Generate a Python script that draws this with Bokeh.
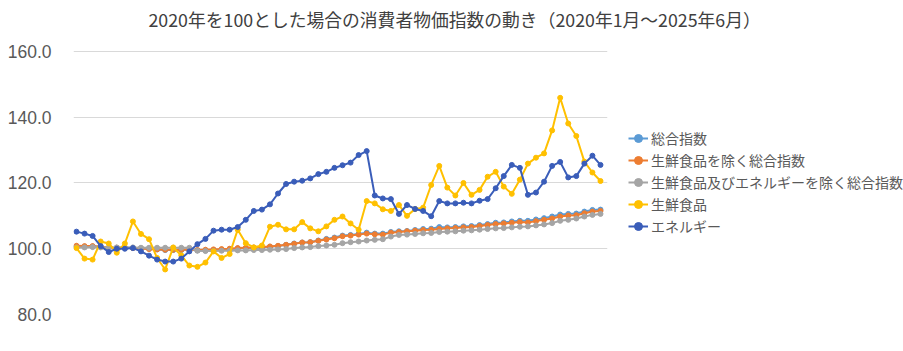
from bokeh.plotting import figure
from bokeh.models import Range1d, FixedTicker, NumeralTickFormatter, Legend, LegendItem
from bokeh.embed import file_html
from bokeh.resources import INLINE

# Months: 2020-01 .. 2025-06
months = [f"{y}-{m:02d}" for y in range(2020, 2026) for m in range(1, 13)][:66]

total = [
    100.7, 100.6, 100.7, 100.6, 100.3, 100.3, 100.3, 100.3, 100.1, 100.0, 99.8, 99.6,
    99.6, 99.6, 99.8, 99.5, 99.5, 99.6, 99.7, 99.9, 100.1, 100.2, 100.3, 100.4,
    100.6, 100.8, 101.2, 101.6, 101.9, 102.0, 102.5, 103.0, 103.4, 104.0, 104.2, 104.5,
    104.9, 104.6, 104.6, 105.1, 105.3, 105.4, 105.7, 106.0, 106.1, 106.6, 106.5, 106.6,
    106.8, 106.9, 107.2, 107.5, 107.9, 108.0, 108.3, 108.5, 108.5, 108.9, 109.3, 109.8,
    110.4, 110.6, 110.7, 111.3, 111.8, 111.9,
]
core = [
    100.9, 100.8, 100.8, 100.6, 100.3, 100.3, 100.3, 100.2, 100.1, 99.9, 99.8, 99.7,
    99.7, 99.7, 99.8, 99.6, 99.7, 99.8, 99.9, 100.0, 100.2, 100.3, 100.4, 100.5,
    100.7, 100.9, 101.2, 101.5, 101.9, 102.0, 102.4, 102.8, 103.2, 103.8, 104.0, 104.3,
    104.6, 104.4, 104.3, 104.9, 105.1, 105.3, 105.5, 105.7, 105.8, 106.0, 106.2, 106.3,
    106.5, 106.6, 106.9, 107.2, 107.5, 107.7, 107.9, 108.1, 108.0, 108.4, 108.8, 109.2,
    109.8, 110.1, 110.2, 110.8, 111.3, 111.5,
]
core_core = [
    100.4, 100.4, 100.5, 100.4, 100.3, 100.4, 100.4, 100.4, 100.3, 100.3, 100.3, 100.3,
    100.3, 100.3, 100.3, 99.4, 99.3, 99.3, 99.4, 99.4, 99.5, 99.5, 99.6, 99.6,
    99.7, 99.8, 99.9, 100.2, 100.4, 100.5, 100.8, 101.0, 101.2, 101.7, 102.0, 102.2,
    102.5, 102.7, 102.9, 103.7, 104.2, 104.3, 104.5, 104.7, 104.8, 105.1, 105.2, 105.3,
    105.5, 105.6, 105.8, 106.0, 106.2, 106.3, 106.5, 106.7, 106.8, 107.1, 107.4, 107.8,
    108.5, 108.8, 109.2, 109.8, 110.3, 110.6,
]
fresh_food = [
    100.2, 97.0, 96.7, 102.2, 101.6, 98.8, 101.6, 108.3, 104.5, 102.9, 97.2, 93.7,
    100.4, 98.0, 94.9, 94.5, 95.8, 99.2, 97.2, 98.4, 105.8, 101.7, 100.4, 101.0,
    106.7, 107.3, 105.9, 105.9, 108.1, 106.2, 105.3, 106.8, 108.8, 109.8, 107.7, 105.8,
    114.5, 113.8, 112.0, 111.5, 113.3, 110.0, 112.1, 112.5, 119.4, 125.2, 118.6, 116.2,
    120.0, 116.4, 117.9, 121.9, 123.4, 118.9, 116.7, 121.0, 125.9, 127.7, 129.0, 136.0,
    145.9, 138.1, 134.3, 126.5, 123.2, 120.6,
]
energy = [
    105.2, 104.6, 103.9, 100.8, 99.0, 100.0, 100.0, 100.2, 99.2, 97.9, 96.7, 96.1,
    96.1, 97.0, 99.2, 101.4, 103.0, 105.5, 105.8, 105.8, 106.6, 108.8, 111.5, 111.9,
    113.5, 116.8, 119.7, 120.4, 120.7, 121.4, 122.7, 123.4, 124.6, 125.4, 126.2, 128.5,
    129.7, 116.2, 115.3, 115.1, 110.6, 113.3, 112.1, 111.5, 109.9, 114.5, 113.8, 113.8,
    114.0, 113.8, 114.6, 115.1, 118.4, 122.1, 125.5, 124.6, 116.4, 117.1, 120.4, 125.2,
    126.4, 121.7, 122.1, 125.9, 128.3, 125.5,
]

series_names = [
    "総合指数",
    "生鮮食品を除く総合指数",
    "生鮮食品及びエネルギーを除く総合指数",
    "生鮮食品",
    "エネルギー",
]
series_values = [total, core, core_core, fresh_food, energy]
series_colors = ["#5B9BD5", "#ED7D31", "#A5A5A5", "#FFC000", "#3A5DB9"]
y_ticks = [80, 100, 120, 140, 160]
title_text = "2020年を100とした場合の消費者物価指数の動き（2020年1月～2025年6月）"

x = list(range(len(months)))

# frame extends a little above the 160 grid line so the title sits high
p = figure(
    frame_width=534, frame_height=276,
    x_range=Range1d(-0.37, 65.87), y_range=Range1d(80, 163.95),
    output_backend="svg", toolbar_location=None,
    min_border_left=73, min_border_right=296, min_border_top=37, min_border_bottom=38,
)
p.outline_line_color = None
p.background_fill_color = "white"
p.border_fill_color = "white"

p.title.text = title_text
p.title.align = "left"
p.title.offset = 75
p.title.text_font = "Noto Sans CJK JP"
p.title.text_font_size = "17.8px"
p.title.text_font_style = "normal"
p.title.text_color = "#404040"
p.title.vertical_align = "top"
p.title.standoff = 10

p.xaxis.visible = False
p.xgrid.visible = False
p.ygrid.grid_line_color = "#D9D9D9"
p.ygrid.grid_line_width = 1

ya = p.yaxis[0]
ya.ticker = FixedTicker(ticks=y_ticks)
ya.formatter = NumeralTickFormatter(format="0.0")
ya.axis_line_color = None
ya.major_tick_line_color = None
ya.minor_tick_line_color = None
ya.major_tick_out = 0
ya.major_tick_in = 0
ya.major_label_text_font = "Liberation Sans"
ya.major_label_text_font_size = "17.5px"
ya.major_label_text_color = "#595959"
ya.major_label_standoff = 22

items = []
for name, vals, col in zip(series_names, series_values, series_colors):
    lr = p.line(x, vals, line_color=col, line_width=2)
    sr = p.scatter(x, vals, size=5, fill_color=col, line_color=col)
    items.append(LegendItem(label=name, renderers=[lr, sr]))

legend = Legend(
    items=items, location=(21, 78),
    label_text_font="Noto Sans CJK JP", label_text_font_size="14px",
    label_text_color="#595959",
    glyph_width=20, glyph_height=20, label_height=20, spacing=2,
    border_line_color=None, background_fill_alpha=0,
    margin=0, padding=0, label_standoff=3,
)
p.add_layout(legend, "right")

open("out.html", "w").write(file_html(p, INLINE))
